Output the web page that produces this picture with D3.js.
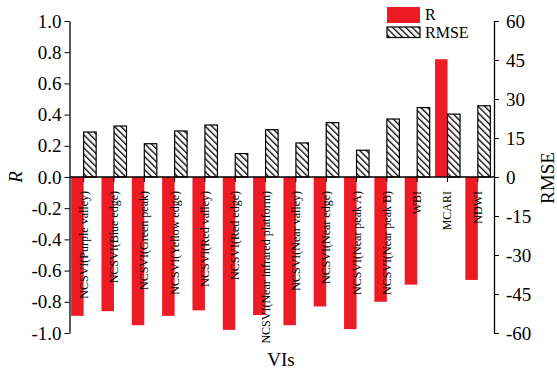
<!DOCTYPE html>
<html>
<head>
<meta charset="utf-8">
<script src="https://cdn.jsdelivr.net/npm/d3@7"></script>
<style>
  body { margin: 0; background: #fff; }
  svg { display: block; }
  text { font-family: "Liberation Serif", "Times New Roman", serif; fill: #000; }
</style>
</head>
<body>
<svg id="chart" width="557" height="371"></svg>
<script>
const categories = [
  "NCSVI(Purple valley)", "NCSVI(Blue edge)", "NCSVI(Green peak)", "NCSVI(Yellow edge)",
  "NCSVI(Red valley)", "NCSVI(Red edge)", "NCSVI(Near infrared platform)", "NCSVI(Near valley)",
  "NCSVI(Near edge)", "NCSVI(Near peak A)", "NCSVI(Near peak B)", "WBI", "MCARI", "NDWI"
];
const rValues = [-0.89, -0.86, -0.95, -0.89, -0.855, -0.98, -0.885, -0.95, -0.83, -0.975, -0.80, -0.69, 0.755, -0.66];
const rmseValues = [17.3, 19.6, 12.8, 17.7, 20.0, 9.0, 18.2, 13.1, 20.9, 10.3, 22.3, 26.7, 24.2, 27.4];
const rTicks = [-1.0, -0.8, -0.6, -0.4, -0.2, 0.0, 0.2, 0.4, 0.6, 0.8, 1.0];
const rmseTicks = [-60, -45, -30, -15, 0, 15, 30, 45, 60];
const legendLabels = ["R", "RMSE"];

const svg = d3.select("#chart");
const red = "#ed1c24";

const defs = svg.append("defs");
defs.append("pattern")
  .attr("id", "hatch")
  .attr("patternUnits", "userSpaceOnUse")
  .attr("width", 4.6).attr("height", 4.6)
  .attr("patternTransform", "rotate(-45)")
  .call(p => {
    p.append("rect").attr("width", 4.6).attr("height", 4.6).attr("fill", "#fff");
    p.append("line").attr("x1", 0.7).attr("y1", 0).attr("x2", 0.7).attr("y2", 4.6)
      .attr("stroke", "#000").attr("stroke-width", 1.3);
  });

const x = d3.scaleBand().domain(categories).range([68.5, 493]).padding(0);
const yR = d3.scaleLinear().domain([-1, 1]).range([333, 21]);
const yRm = d3.scaleLinear().domain([-60, 60]).range([333, 21]);
const barW = 12.5;
const cx = c => x(c) + x.bandwidth() / 2;

// R bars
svg.append("g").selectAll("rect").data(categories).join("rect")
  .attr("x", c => cx(c) - barW)
  .attr("width", barW)
  .attr("y", (c, i) => yR(Math.max(0, rValues[i])))
  .attr("height", (c, i) => Math.abs(yR(rValues[i]) - yR(0)))
  .attr("fill", red);

// RMSE bars
svg.append("g").selectAll("rect").data(categories).join("rect")
  .attr("x", c => cx(c))
  .attr("width", barW)
  .attr("y", (c, i) => yRm(rmseValues[i]))
  .attr("height", (c, i) => yRm(0) - yRm(rmseValues[i]))
  .attr("fill", "url(#hatch)")
  .attr("stroke", "#000").attr("stroke-width", 1.2);

// Left axis
const fmtR = d => (Math.abs(d) < 1e-9 ? 0 : d).toFixed(1);
const gL = svg.append("g").attr("transform", "translate(69.5,0)")
  .call(d3.axisLeft(yR).tickValues(rTicks).tickFormat(fmtR).tickSize(5).tickSizeOuter(0).tickPadding(3));
gL.selectAll("text").style("font-size", "19px").style("font-family", "Liberation Serif");

// Right axis
const gR = svg.append("g").attr("transform", "translate(494,0)")
  .call(d3.axisRight(yRm).tickValues(rmseTicks).tickFormat(d => String(d)).tickSize(5).tickSizeOuter(0).tickPadding(7));
gR.selectAll("text").style("font-size", "19px").style("font-family", "Liberation Serif");

// X axis at zero with rotated category labels
const xAxis = d3.axisBottom(x).tickSize(5).tickSizeOuter(0).tickPadding(0);
const gX = svg.append("g").attr("transform", `translate(0,${yR(0)})`).call(xAxis);
gX.select(".domain").attr("d", `M69.5,0H494`).attr("stroke-width", 1.3);
gX.selectAll(".tick text")
  .attr("transform", "rotate(-90)")
  .attr("x", -14).attr("y", 0).attr("dy", "0.33em")
  .style("text-anchor", "end")
  .style("font-size", "12px").style("font-family", "Liberation Serif");

[gL, gR, gX].forEach(g => g.selectAll("line, path").attr("stroke", "#000"));
gL.select(".domain").attr("stroke-width", 1.3);
gR.select(".domain").attr("stroke-width", 1.3);

// Axis titles
svg.append("text").attr("x", 281).attr("y", 366).attr("text-anchor", "middle")
  .style("font-size", "19px").text("VIs");
svg.append("text").attr("transform", "translate(22,177) rotate(-90)").attr("text-anchor", "middle")
  .style("font-size", "19px").style("font-style", "italic").text("R");
svg.append("text").attr("transform", "translate(554,178) rotate(-90)").attr("text-anchor", "middle")
  .style("font-size", "19px").text("RMSE");

// Legend
const lg = svg.append("g");
lg.append("rect").attr("x", 387).attr("y", 7).attr("width", 33).attr("height", 16).attr("fill", red);
lg.append("rect").attr("x", 387).attr("y", 27).attr("width", 33).attr("height", 10.5)
  .attr("fill", "url(#hatch)").attr("stroke", "#000").attr("stroke-width", 1.2);
lg.append("text").attr("x", 425).attr("y", 20).style("font-size", "16px").text(legendLabels[0]);
lg.append("text").attr("x", 425).attr("y", 38).style("font-size", "16px").text(legendLabels[1]);
</script>
</body>
</html>
